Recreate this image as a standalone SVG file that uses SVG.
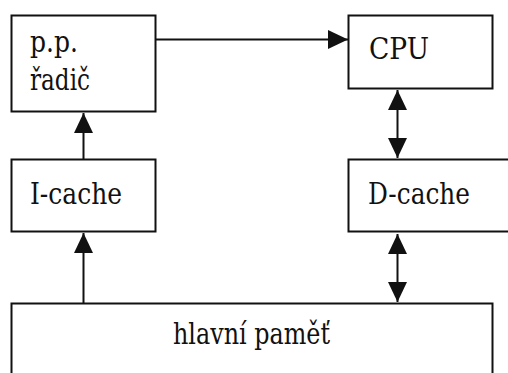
<svg xmlns="http://www.w3.org/2000/svg" width="508" height="373" viewBox="0 0 508 373">
<style>
.box{fill:#fff;stroke:#111;stroke-width:2}
.lbl{font-family:"DejaVu Serif",serif;font-size:29px;fill:#111}
.con{stroke:#111;stroke-width:2;fill:none}
</style>
<defs>
<marker id="ah" markerUnits="userSpaceOnUse" markerWidth="20" markerHeight="20" refX="20" refY="10" orient="auto-start-reverse" viewBox="0 0 20 20">
<path d="M0,0.5 L20,10 L0,19.5 z" fill="#111"/>
</marker>
</defs>
<rect width="508" height="373" fill="#fff"/>
<g id="radic">
<rect class="box" x="11.5" y="15.5" width="144" height="96"/>
<text class="lbl" x="30" y="52" textLength="48" lengthAdjust="spacingAndGlyphs">p.p.</text>
<text class="lbl" x="30" y="90" textLength="60" lengthAdjust="spacingAndGlyphs">řadič</text>
</g>
<g id="cpu">
<rect class="box" x="348.5" y="15.5" width="144" height="73"/>
<text class="lbl" x="369" y="59" textLength="60" lengthAdjust="spacingAndGlyphs">CPU</text>
</g>
<g id="icache">
<rect class="box" x="11.5" y="159.5" width="144" height="72"/>
<text class="lbl" x="30" y="204" textLength="92" lengthAdjust="spacingAndGlyphs">I-cache</text>
</g>
<g id="dcache">
<rect class="box" x="348.5" y="159.5" width="200" height="72"/>
<text class="lbl" x="368" y="204" textLength="102" lengthAdjust="spacingAndGlyphs">D-cache</text>
</g>
<g id="pamet">
<rect class="box" x="11.5" y="303.5" width="481" height="100"/>
<text class="lbl" x="173" y="344" textLength="157" lengthAdjust="spacingAndGlyphs">hlavní paměť</text>
</g>
<g id="connectors">
<line class="con" x1="156" y1="39.5" x2="348" y2="39.5" marker-end="url(#ah)"/>
<line class="con" x1="83.5" y1="159" x2="83.5" y2="113" marker-end="url(#ah)"/>
<line class="con" x1="83.5" y1="303" x2="83.5" y2="233" marker-end="url(#ah)"/>
<line class="con" x1="397.5" y1="90" x2="397.5" y2="158" marker-start="url(#ah)" marker-end="url(#ah)"/>
<line class="con" x1="397.5" y1="234" x2="397.5" y2="302" marker-start="url(#ah)" marker-end="url(#ah)"/>
</g>
</svg>
